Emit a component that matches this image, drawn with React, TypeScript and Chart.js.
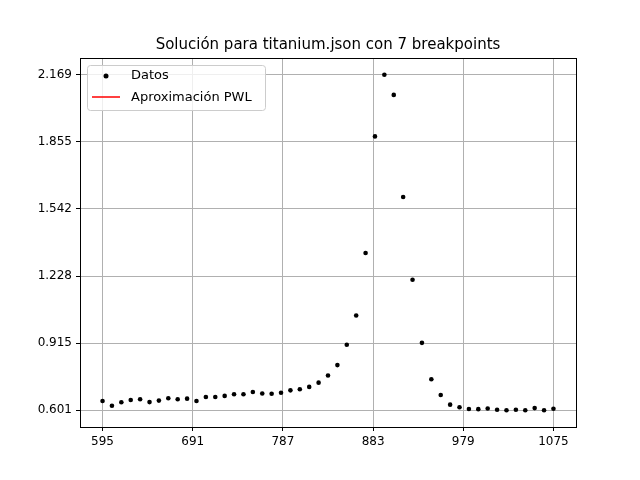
import { useEffect, useRef } from 'react'
import Chart from 'chart.js/auto'

const xValues = [595, 605, 615, 625, 635, 645, 655, 665, 675, 685, 695, 705, 715, 725, 735, 745, 755, 765, 775, 785, 795, 805, 815, 825, 835, 845, 855, 865, 875, 885, 895, 905, 915, 925, 935, 945, 955, 965, 975, 985, 995, 1005, 1015, 1025, 1035, 1045, 1055, 1065, 1075]
const yValues = [0.644, 0.622, 0.638, 0.649, 0.652, 0.639, 0.646, 0.657, 0.652, 0.655, 0.644, 0.663, 0.663, 0.668, 0.676, 0.676, 0.686, 0.679, 0.678, 0.683, 0.694, 0.699, 0.710, 0.730, 0.763, 0.812, 0.907, 1.044, 1.336, 1.881, 2.169, 2.075, 1.598, 1.211, 0.916, 0.746, 0.672, 0.627, 0.615, 0.607, 0.606, 0.609, 0.603, 0.601, 0.603, 0.601, 0.611, 0.601, 0.608]
const xTicks = [595, 691, 787, 883, 979, 1075]
const yTicks = [0.601, 0.915, 1.228, 1.542, 1.855, 2.169]
const FONT = 'DejaVu Sans'

const overlay = {
  id: 'overlay',
  afterDraw(chart: any) {
    const ctx = chart.ctx
    const a = chart.chartArea
    ctx.save()
    // axes frame
    ctx.strokeStyle = '#000'
    ctx.lineWidth = 1
    ctx.strokeRect(Math.round(a.left) + 0.5, Math.round(a.top) + 0.5, Math.round(a.right - a.left), Math.round(a.bottom - a.top))
    ctx.fillStyle = '#000'
    ctx.font = `15px ${FONT}`
    ctx.textAlign = 'center'
    ctx.textBaseline = 'alphabetic'
    ctx.fillText('Solución para titanium.json con 7 breakpoints', 328, 49)
    // legend
    ctx.fillStyle = 'rgba(255,255,255,0.8)'
    ctx.strokeStyle = '#cccccc'
    ctx.beginPath()
    ctx.roundRect(87.5, 65.5, 178, 45, 3)
    ctx.fill()
    ctx.stroke()
    ctx.fillStyle = '#000'
    ctx.beginPath()
    ctx.arc(106, 76, 2.5, 0, Math.PI * 2)
    ctx.fill()
    ctx.strokeStyle = 'red'
    ctx.lineWidth = 1.5
    ctx.beginPath()
    ctx.moveTo(92, 97)
    ctx.lineTo(120, 97)
    ctx.stroke()
    ctx.font = `13px ${FONT}`
    ctx.textAlign = 'left'
    ctx.textBaseline = 'middle'
    ctx.fillText('Datos', 131, 76)
    ctx.fillText('Aproximación PWL', 131, 98)
    ctx.restore()
  }
}

export default function App() {
  const ref = useRef<HTMLCanvasElement>(null)

  useEffect(() => {
    document.body.style.margin = '0'
    if (!ref.current) return
    const chart = new Chart(ref.current, {
      type: 'scatter',
      data: {
        datasets: [
          {
            label: 'Datos',
            data: xValues.map((x, i) => ({ x, y: yValues[i] })),
            backgroundColor: '#000',
            borderColor: '#000',
            borderWidth: 0,
            pointRadius: 2.3,
            pointHoverRadius: 2.3
          },
          {
            label: 'Aproximación PWL',
            data: [],
            showLine: true,
            borderColor: 'red'
          }
        ]
      },
      options: {
        responsive: false,
        animation: false,
        layout: { padding: { left: 0, right: 64, top: 58, bottom: 0 } },
        plugins: { legend: { display: false }, tooltip: { enabled: false }, title: { display: false } },
        scales: {
          x: {
            type: 'linear',
            min: 571,
            max: 1099,
            afterFit: (s: any) => { s.height = 53 },
            afterBuildTicks: (s: any) => { s.ticks = xTicks.map(v => ({ value: v })) },
            ticks: { color: '#000', font: { family: FONT, size: 12 }, padding: 4, callback: (v: any) => String(v) },
            grid: { color: '#b0b0b0', tickColor: '#000', tickLength: 4 },
            border: { color: '#000' }
          },
          y: {
            min: 0.5226,
            max: 2.2474,
            afterFit: (s: any) => { s.width = 80 },
            afterBuildTicks: (s: any) => { s.ticks = yTicks.map(v => ({ value: v })) },
            ticks: { color: '#000', font: { family: FONT, size: 12 }, padding: 4, callback: (v: any) => Number(v).toFixed(3) },
            grid: { color: '#b0b0b0', tickColor: '#000', tickLength: 4 },
            border: { color: '#000' }
          }
        }
      },
      plugins: [overlay]
    })
    return () => chart.destroy()
  }, [])

  return <canvas ref={ref} width={640} height={480} style={{ display: 'block' }} />
}
